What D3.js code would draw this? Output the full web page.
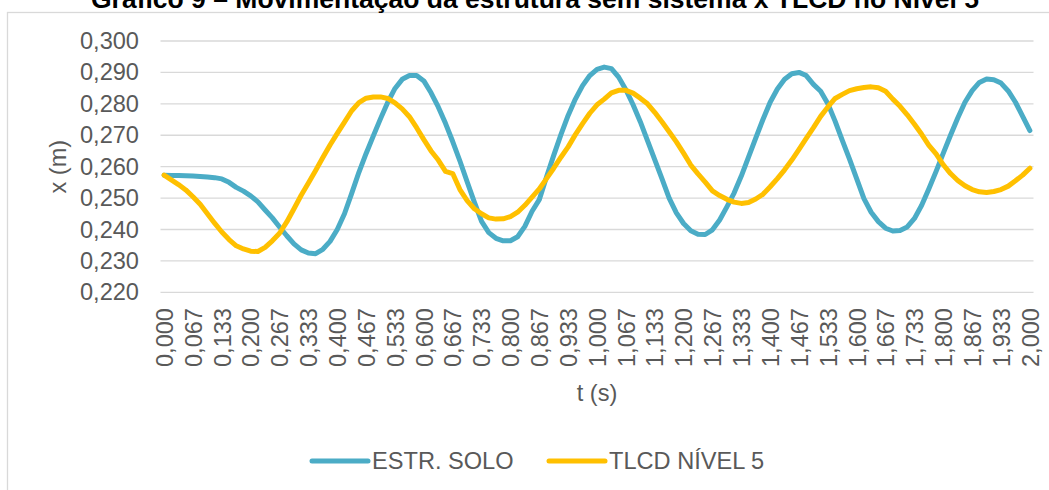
<!DOCTYPE html>
<html lang="pt">
<head>
<meta charset="utf-8">
<title>Gráfico 9</title>
<script src="https://d3js.org/d3.v7.min.js"></script>
<style>
  body { margin: 0; background: #fff; }
  svg text { font-family: "Liberation Sans", Arial, sans-serif; fill: #595959; }
</style>
</head>
<body>
<div id="vis"></div>
<script>
// tempo (s): 121 amostras de 1/60 s
var tStep = 1 / 60;
var times = d3.range(121).map(function(i) { return i * tStep; });

var tickLabels = ["0,000","0,067","0,133","0,200","0,267","0,333","0,400","0,467","0,533","0,600",
  "0,667","0,733","0,800","0,867","0,933","1,000","1,067","1,133","1,200","1,267","1,333","1,400",
  "1,467","1,533","1,600","1,667","1,733","1,800","1,867","1,933","2,000"];

var yTicks = [0.220, 0.230, 0.240, 0.250, 0.260, 0.270, 0.280, 0.290, 0.300];

var estrSolo = [
  0.2573, 0.2572, 0.2572, 0.2571, 0.2570, 0.2569, 0.2567, 0.2565, 0.2561, 0.2550,
  0.2534, 0.2522, 0.2507, 0.2488, 0.2462, 0.2437, 0.2408, 0.2380, 0.2354, 0.2335,
  0.2325, 0.2323, 0.2337, 0.2362, 0.2400, 0.2450, 0.2515, 0.2582, 0.2642, 0.2698,
  0.2753, 0.2805, 0.2849, 0.2878, 0.2890, 0.2890, 0.2873, 0.2835, 0.2790, 0.2738,
  0.2680, 0.2618, 0.2552, 0.2487, 0.2426, 0.2390, 0.2372, 0.2364, 0.2364, 0.2377,
  0.2410, 0.2458, 0.2495, 0.2567, 0.2636, 0.2702, 0.2763, 0.2815, 0.2858, 0.2890,
  0.2910, 0.2917, 0.2912, 0.2885, 0.2845, 0.2797, 0.2743, 0.2683, 0.2622, 0.2562,
  0.2500, 0.2453, 0.2419, 0.2396, 0.2385, 0.2384, 0.2399, 0.2430, 0.2472, 0.2516,
  0.2570, 0.2630, 0.2691, 0.2750, 0.2805, 0.2847, 0.2878, 0.2896, 0.2900, 0.2890,
  0.2862, 0.2840, 0.2800, 0.2745, 0.2684, 0.2624, 0.2561, 0.2498, 0.2455, 0.2425,
  0.2404, 0.2395, 0.2397, 0.2408, 0.2435, 0.2477, 0.2530, 0.2585, 0.2643, 0.2700,
  0.2755, 0.2805, 0.2842, 0.2868, 0.2879, 0.2877, 0.2866, 0.2841, 0.2805, 0.2760,
  0.2715
];

var tlcdNivel5 = [
  0.2573, 0.2558, 0.2543, 0.2526, 0.2504, 0.2480, 0.2450, 0.2420, 0.2392, 0.2368,
  0.2348, 0.2338, 0.2331, 0.2330, 0.2343, 0.2364, 0.2388, 0.2424, 0.2466, 0.2509,
  0.2548, 0.2588, 0.2629, 0.2669, 0.2706, 0.2742, 0.2778, 0.2804, 0.2818, 0.2822,
  0.2822, 0.2817, 0.2803, 0.2784, 0.2759, 0.2724, 0.2686, 0.2650, 0.2621, 0.2585,
  0.2578, 0.2527, 0.2492, 0.2466, 0.2450, 0.2437, 0.2433, 0.2434, 0.2441, 0.2455,
  0.2477, 0.2503, 0.2529, 0.2562, 0.2595, 0.2630, 0.2663, 0.2702, 0.2737, 0.2770,
  0.2797, 0.2815, 0.2835, 0.2843, 0.2843, 0.2834, 0.2818, 0.2800, 0.2773, 0.2743,
  0.2711, 0.2679, 0.2643, 0.2605, 0.2577, 0.2551, 0.2523, 0.2508, 0.2496, 0.2487,
  0.2483, 0.2486, 0.2497, 0.2512, 0.2536, 0.2562, 0.2590, 0.2621, 0.2655, 0.2690,
  0.2724, 0.2760, 0.2790, 0.2817, 0.2830, 0.2842, 0.2848, 0.2852, 0.2854, 0.2851,
  0.2840, 0.2815, 0.2792, 0.2765, 0.2735, 0.2703, 0.2668, 0.2641, 0.2606, 0.2578,
  0.2556, 0.2539, 0.2527, 0.2520, 0.2518, 0.2521, 0.2527, 0.2538, 0.2555, 0.2573,
  0.2595
];

var series = [
  { name: "ESTR. SOLO", values: estrSolo, color: "#4bacc6" },
  { name: "TLCD NÍVEL 5", values: tlcdNivel5, color: "#ffc000" }
];

var W = 1049, H = 490;
var fs = "23.6px";
var svg = d3.select("#vis").append("svg")
  .attr("width", W)
  .attr("height", H);

// moldura da área do gráfico (cortada à direita e em baixo)
svg.append("rect")
  .attr("x", 7.5).attr("y", 12.5)
  .attr("width", 1200).attr("height", 600)
  .attr("fill", "none")
  .attr("stroke", "#d9d9d9")
  .attr("stroke-width", 1.3);

// título (cortado no topo, como no original)
svg.append("text")
  .attr("x", 535).attr("y", 7.5)
  .attr("text-anchor", "middle")
  .style("font-size", "26.5px")
  .style("font-weight", "bold")
  .style("fill", "#000")
  .text("Gráfico 9 – Movimentação da estrutura sem sistema x TLCD no Nível 5");

var plot = { left: 160.5, right: 1033.5, top: 41, bottom: 292.3 };

var x = d3.scalePoint()
  .domain(d3.range(times.length))
  .range([plot.left, plot.right])
  .padding(0.5);

var y = d3.scaleLinear()
  .domain([0.220, 0.300])
  .range([plot.bottom, plot.top]);

// linhas de grade
svg.append("g")
  .selectAll("line")
  .data(yTicks)
  .join("line")
    .attr("x1", plot.left).attr("x2", plot.right)
    .attr("y1", function(d) { return y(d); })
    .attr("y2", function(d) { return y(d); })
    .attr("stroke", "#d9d9d9")
    .attr("stroke-width", 1.3);

// eixo y
var fmt = function(v) { return d3.format(".3f")(v).replace(".", ","); };
var yAxis = d3.axisLeft(y).tickValues(yTicks).tickFormat(fmt).tickSize(0).tickPadding(0);
var gy = svg.append("g")
  .attr("transform", "translate(139,0)")
  .call(yAxis);
gy.select(".domain").remove();
gy.selectAll("text")
  .attr("x", 0)
  .style("font-size", fs)
  .style("font-family", "'Liberation Sans', Arial, sans-serif")
  .attr("fill", "#595959");

// eixo x (rótulos a cada 4 categorias)
var tickIdx = d3.range(0, times.length, 4);
var xAxis = d3.axisBottom(x)
  .tickValues(tickIdx)
  .tickFormat(function(i) { return tickLabels[i / 4]; })
  .tickSize(0);
var gx = svg.append("g")
  .attr("transform", "translate(0," + 308 + ")")
  .call(xAxis);
gx.select(".domain").remove();
gx.selectAll("text")
  .attr("x", 0).attr("y", 0)
  .attr("dy", "0.35em")
  .attr("transform", "rotate(-90)")
  .style("text-anchor", "end")
  .style("font-size", fs)
  .style("font-family", "'Liberation Sans', Arial, sans-serif")
  .attr("fill", "#595959");

// títulos dos eixos
svg.append("text")
  .attr("transform", "translate(58," + ((plot.top + plot.bottom) / 2) + ") rotate(-90)")
  .attr("dy", "0.35em")
  .attr("text-anchor", "middle")
  .style("font-size", fs)
  .text("x (m)");

svg.append("text")
  .attr("x", (plot.left + plot.right) / 2)
  .attr("y", 401)
  .attr("text-anchor", "middle")
  .style("font-size", fs)
  .text("t (s)");

// linhas das séries
var line = d3.line()
  .x(function(d, i) { return x(i); })
  .y(function(d) { return y(d); });

svg.append("g")
  .selectAll("path")
  .data(series)
  .join("path")
    .attr("d", function(s) { return line(s.values); })
    .attr("fill", "none")
    .attr("stroke", function(s) { return s.color; })
    .attr("stroke-width", 5)
    .attr("stroke-linejoin", "round")
    .attr("stroke-linecap", "round");

// legenda
var legendX = [312, 549];
var leg = svg.append("g")
  .selectAll("g")
  .data(series)
  .join("g")
    .attr("transform", function(d, i) { return "translate(" + legendX[i] + ",461)"; });
leg.append("line")
  .attr("x1", 0).attr("x2", 56)
  .attr("stroke", function(d) { return d.color; })
  .attr("stroke-width", 5)
  .attr("stroke-linecap", "round");
leg.append("text")
  .attr("x", 60)
  .attr("dy", "0.35em")
  .style("font-size", fs)
  .text(function(d) { return d.name; });
</script>
</body>
</html>
